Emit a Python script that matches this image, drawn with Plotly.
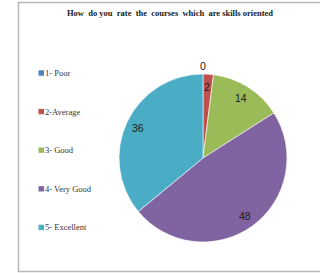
import math
import plotly.graph_objects as go

title = "How  do you  rate  the  courses  which  are skills oriented"
categories = ["1- Poor", "2-Average", "3- Good", "4- Very Good", "5- Excellent"]
values = [0, 2, 14, 48, 36]
colors = ["#4F81BD", "#C0504D", "#9BBB59", "#8064A2", "#4BACC6"]

W, H = 320, 273
cx, cy, R = 203, 158, 84  # pie centre / radius in pixels

fig = go.Figure()
fig.add_trace(go.Pie(
    labels=categories, values=values, sort=False, direction="clockwise", rotation=0,
    marker=dict(colors=colors, line=dict(color="white", width=0.6)),
    textinfo="none", hoverinfo="label+value", showlegend=False,
    domain=dict(x=[(cx - R) / W, (cx + R) / W], y=[(H - cy - R) / H, (H - cy + R) / H]),
))

annotations = []
total = sum(values)
cum = 0
for v in values:
    mid = (cum + v / 2) / total * 2 * math.pi
    cum += v
    frac = 0.85 if v > 0 else 1.09
    px = cx + R * frac * math.sin(mid)
    py = cy - R * frac * math.cos(mid)
    annotations.append(dict(
        x=px / W, y=1 - py / H, xref="paper", yref="paper", text=str(v),
        showarrow=False, xanchor="center", yanchor="middle",
        font=dict(family="Liberation Sans, Arial", size=10.5, color="#1a1a1a"),
    ))

annotations.append(dict(
    x=170 / W, y=1 - 13 / H, xref="paper", yref="paper",
    text="<b>" + title.replace("  ", "\u00a0 ") + "</b>", showarrow=False,
    xanchor="center", yanchor="middle",
    font=dict(family="Liberation Serif, Times New Roman", size=8.5, color="#1a1a1a"),
))

shapes = [dict(type="rect", xref="paper", yref="paper",
               x0=18.5 / W, x1=330 / W, y0=1 - 271.5 / H, y1=1 - 2.5 / H,
               line=dict(color="#b8b8b8", width=1.5), fillcolor="rgba(0,0,0,0)")]

for i, (c, col) in enumerate(zip(categories, colors)):
    ly = 73 + i * 38.6
    shapes.append(dict(type="rect", xref="paper", yref="paper",
                       x0=38.5 / W, x1=44 / W, y0=1 - (ly + 2.7) / H, y1=1 - (ly - 2.7) / H,
                       line=dict(width=0), fillcolor=col))
    annotations.append(dict(
        x=42.5 / W, y=1 - ly / H, xref="paper", yref="paper", text=c,
        showarrow=False, xanchor="left", yanchor="middle",
        font=dict(family="Liberation Serif, Times New Roman", size=8.5, color="#333333"),
    ))

fig.update_layout(
    width=W, height=H, margin=dict(l=0, r=0, t=0, b=0),
    paper_bgcolor="white", plot_bgcolor="white",
    annotations=annotations, shapes=shapes,
)
fig.write_html("out.html", config={"displayModeBar": False},
               post_script="document.body.style.margin='0';document.body.style.overflow='hidden';")
